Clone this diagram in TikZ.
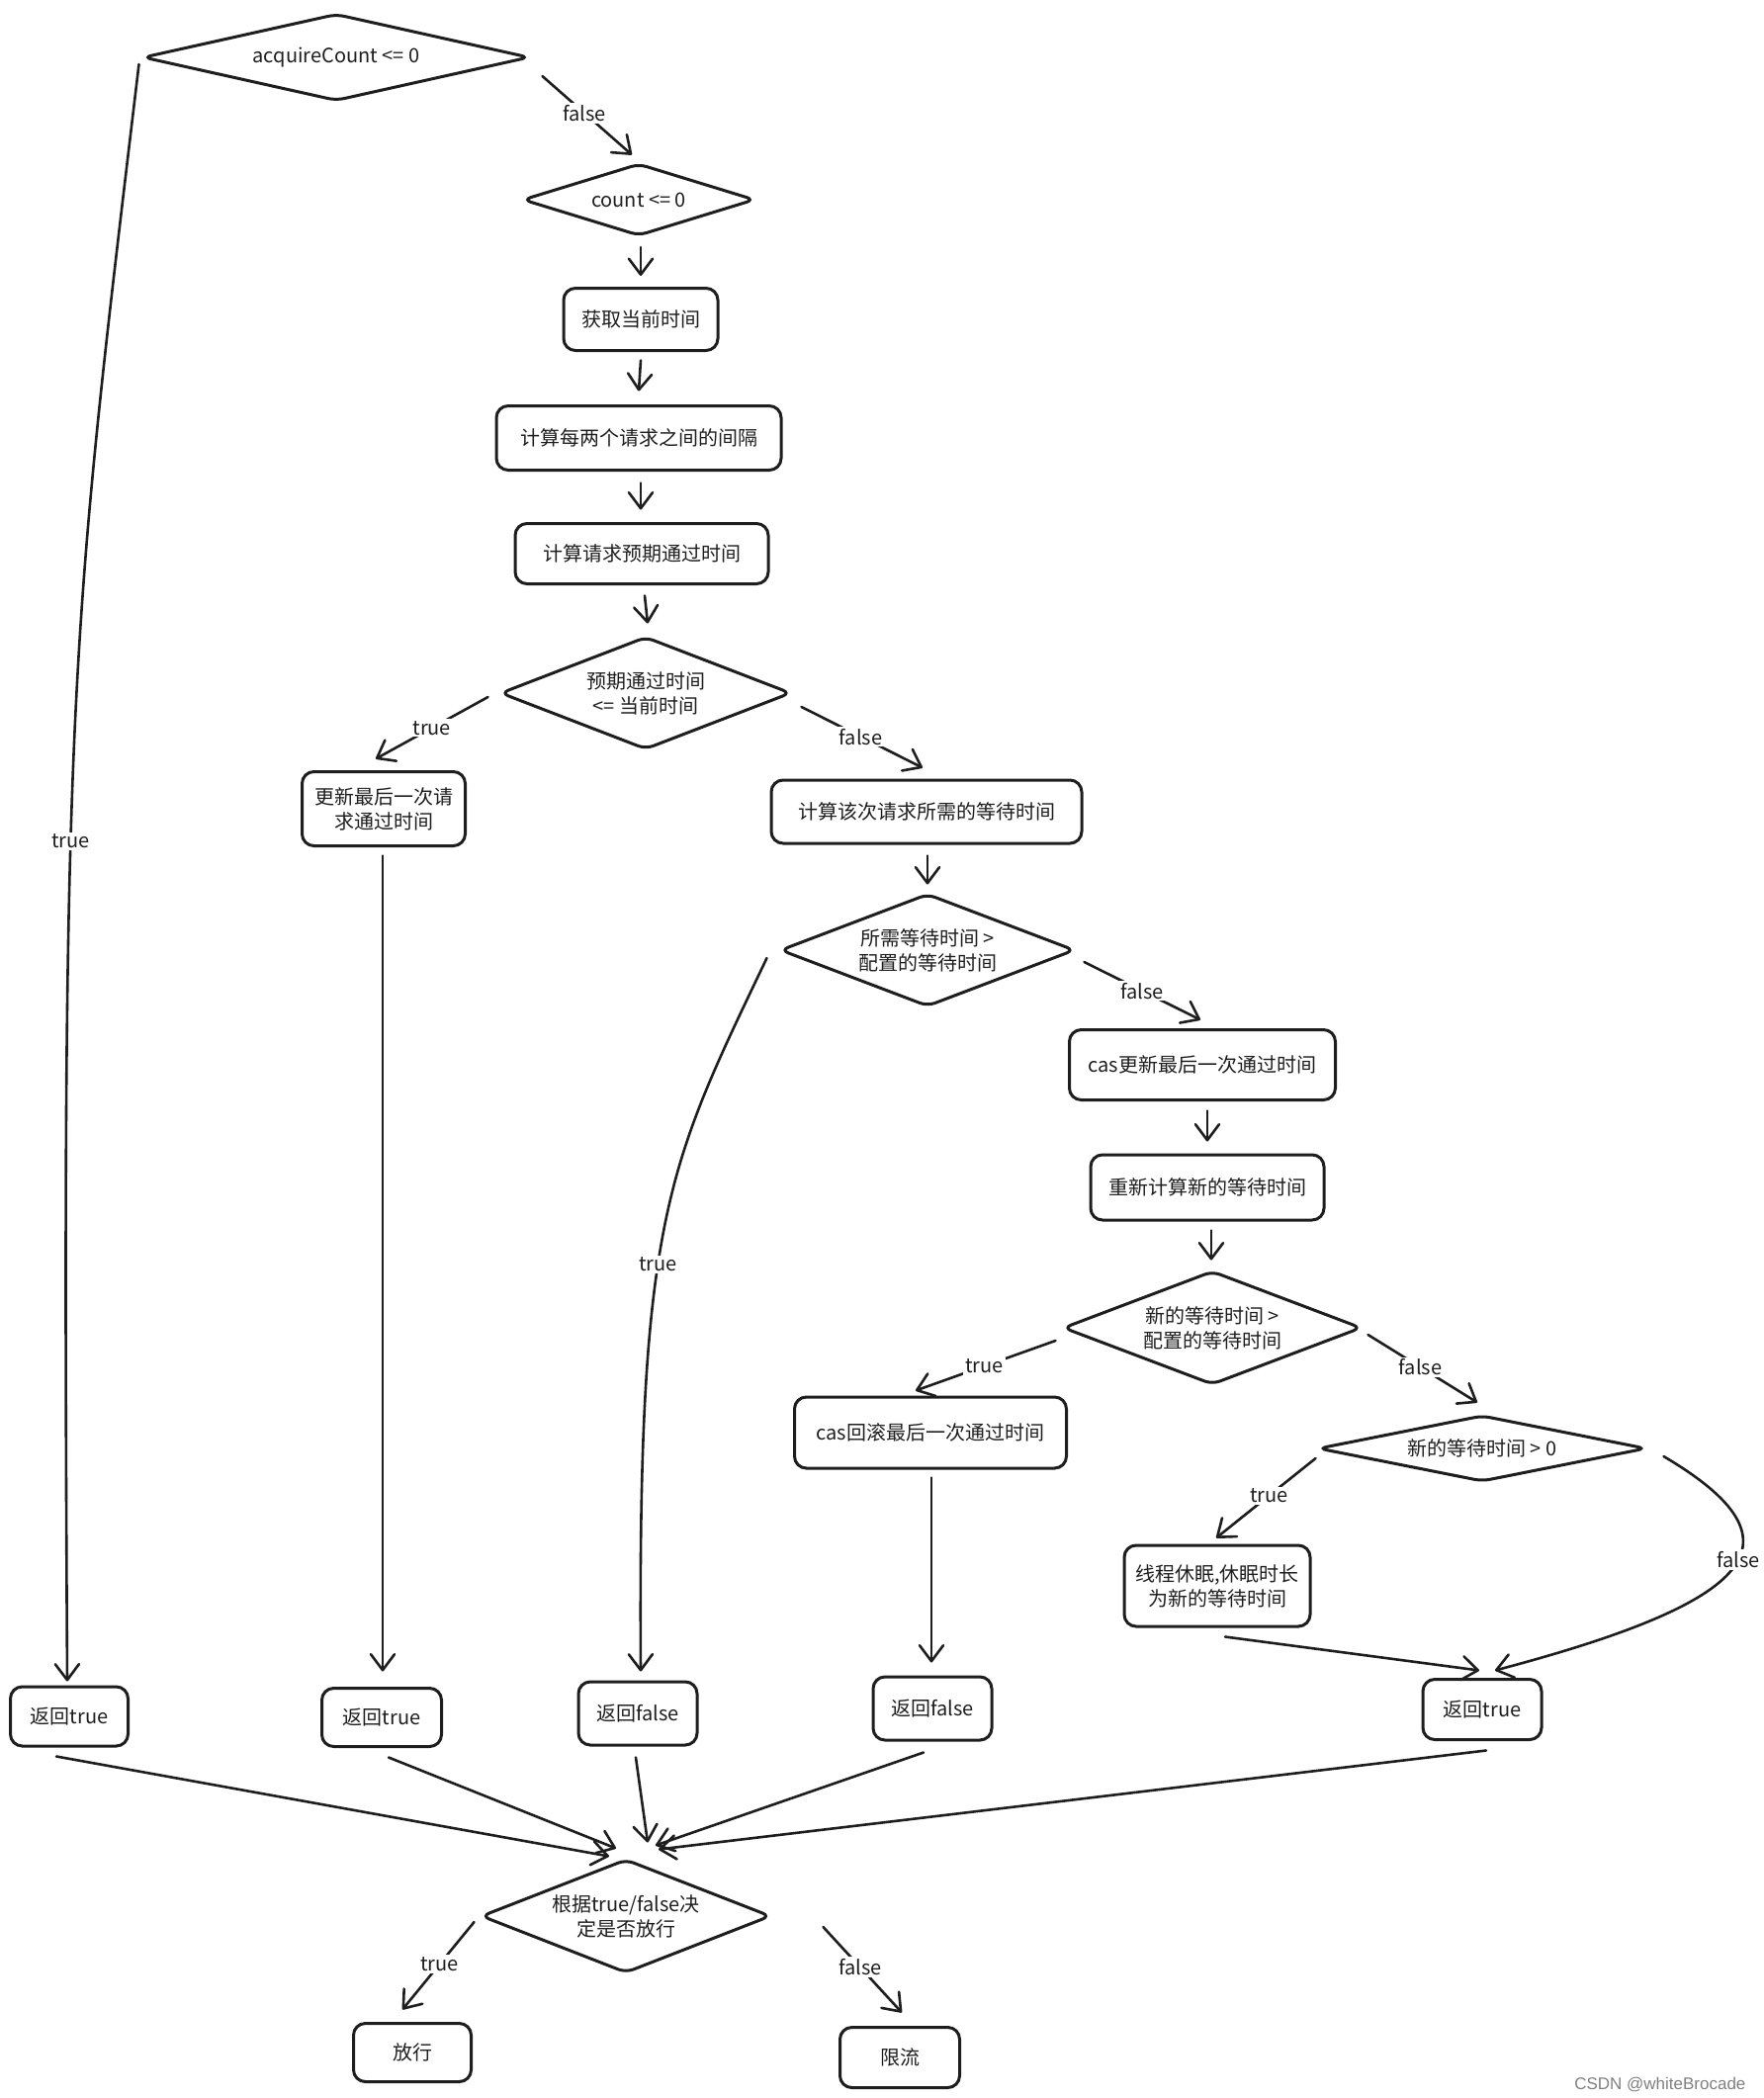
\documentclass[tikz,border=0pt]{standalone}
\usepackage{fontspec}
\setmainfont{Noto Sans CJK SC}
\newfontfamily\wmfont{Liberation Sans}
\usetikzlibrary{shapes.geometric,arrows.meta}
\definecolor{ink}{HTML}{1E1E1E}
\begin{document}
\begin{tikzpicture}[x=1pt,y=-1pt,
  every node/.style={font=\fontsize{20}{25}\selectfont, text=ink},
  box/.style={draw=ink, line width=3pt, rounded corners=12pt, inner sep=0pt, align=center},
  dia/.style={draw=ink, line width=3pt, shape=diamond, rounded corners=8pt, inner sep=0pt, align=center},
  arr/.style={draw=ink, line width=2.6pt, line cap=round, -{Straight Barb[length=16pt,width=24pt,round]}},
  lbl/.style={fill=white, inner sep=2pt}]
\useasboundingbox (0,0) rectangle (1784,2122);

% nodes
\node[dia, minimum width=391pt, minimum height=88pt, aspect=4.44] (A) at (340,58) {acquireCount <= 0};
\node[dia, minimum width=235pt, minimum height=73pt, aspect=3.22] (C) at (646,202) {count <= 0};
\node[box, minimum width=156pt, minimum height=63pt] (T1) at (648,323) {获取当前时间};
\node[box, minimum width=288pt, minimum height=65pt] (T2) at (646,443) {计算每两个请求之间的间隔};
\node[box, minimum width=256pt, minimum height=61pt] (T3) at (649,560) {计算请求预期通过时间};
\node[dia, minimum width=294pt, minimum height=114pt, aspect=2.58] (D1) at (653,701) {预期通过时间\\ <= 当前时间};
\node[box, minimum width=165pt, minimum height=75pt] (B1) at (388,818) {更新最后一次请\\求通过时间};
\node[box, minimum width=314pt, minimum height=64pt] (B2) at (937,821) {计算该次请求所需的等待时间};
\node[dia, minimum width=298pt, minimum height=114pt, aspect=2.61] (D2) at (938,961) {所需等待时间 >\\配置的等待时间};
\node[box, minimum width=269pt, minimum height=71pt] (B3) at (1216,1077) {cas更新最后一次通过时间};
\node[box, minimum width=236pt, minimum height=66pt] (B4) at (1221,1201) {重新计算新的等待时间};
\node[dia, minimum width=302pt, minimum height=115pt, aspect=2.63] (D3) at (1226,1343) {新的等待时间 >\\配置的等待时间};
\node[box, minimum width=275pt, minimum height=72pt] (B5) at (941,1449) {cas回滚最后一次通过时间};
\node[dia, minimum width=332pt, minimum height=67pt, aspect=4.96] (D4) at (1499,1465) {新的等待时间 > 0};
\node[box, minimum width=188pt, minimum height=82pt] (B6) at (1231,1604) {线程休眠,休眠时长\\为新的等待时间};
\node[box, minimum width=119pt, minimum height=60pt] (R1) at (70,1736) {返回true};
\node[box, minimum width=121pt, minimum height=59pt] (R2) at (386,1737) {返回true};
\node[box, minimum width=120pt, minimum height=64pt] (R3) at (645,1733) {返回false};
\node[box, minimum width=120pt, minimum height=64pt] (R4) at (943,1728) {返回false};
\node[box, minimum width=120pt, minimum height=61pt] (R5) at (1499,1729) {返回true};
\node[dia, minimum width=293pt, minimum height=115pt, aspect=2.55] (D5) at (633,1938) {根据true/false决\\定是否放行};
\node[box, minimum width=119pt, minimum height=59pt] (E1) at (417,2076) {放行};
\node[box, minimum width=121pt, minimum height=61pt] (E2) at (910,2081) {限流};
\node[anchor=east, text=gray, font=\wmfont\fontsize{17}{20}\selectfont] (W) at (1769,2108) {CSDN @whiteBrocade};

% connectors
\draw[arr] ([shift={(-2.5,7)}]A.west) .. controls (72,640) and (62,700) .. ([shift={(-2,-4)}]R1.north) node[lbl, pos=0.595] {true};
\draw[arr] ([shift={(11.5,19)}]A.east) -- ([shift={(-7,-7.5)}]C.north) node[lbl, pos=0.47] {false};
\draw[arr] ([shift={(2,10)}]C.south) -- ([shift={(0,-11)}]T1.north);
\draw[arr] ([shift={(0,8.5)}]T1.south) -- ([shift={(0,-13.5)}]T2.north);
\draw[arr] ([shift={(2,11.5)}]T2.south) -- ([shift={(-1,-12.5)}]T3.north);
\draw[arr] ([shift={(3,10.5)}]T3.south) -- ([shift={(2,-12)}]D1.north);
\draw[arr] ([shift={(-11,4)}]D1.west) -- ([shift={(-8,-11.5)}]B1.north) node[lbl, pos=0.5] {true};
\draw[arr] ([shift={(9,14)}]D1.east) -- ([shift={(-4,-11)}]B2.north) node[lbl, pos=0.49] {false};
\draw[arr] ([shift={(-1,8.5)}]B1.south) -- ([shift={(1,-15.5)}]R2.north);
\draw[arr] ([shift={(1,11)}]B2.south) -- ([shift={(0,-8)}]D2.north);
\draw[arr] ([shift={(-12,8)}]D2.west) .. controls (675,1180) and (645,1230) .. ([shift={(3,-9)}]R3.north) node[lbl, pos=0.57] {true};
\draw[arr] ([shift={(8,12)}]D2.east) -- ([shift={(-2,-8.5)}]B3.north) node[lbl, pos=0.5] {false};
\draw[arr] ([shift={(5,9.5)}]B3.south) -- ([shift={(0,-12)}]B4.north);
\draw[arr] ([shift={(4,9)}]B4.south) -- ([shift={(-1,-9.5)}]D3.north);
\draw[arr] ([shift={(-6,13)}]D3.west) -- ([shift={(-15,-5)}]B5.north) node[lbl, pos=0.51] {true};
\draw[arr] ([shift={(5,7)}]D3.east) -- ([shift={(-5,-11.5)}]D4.north) node[lbl, pos=0.48] {false};
\draw[arr] ([shift={(1,8)}]B5.south) -- ([shift={(-1,-13)}]R4.north);
\draw[arr] ([shift={(-1,10)}]D4.west) -- ([shift={(-1,-6)}]B6.north) node[lbl, pos=0.47] {true};
\draw[arr] ([shift={(16,8)}]D4.east) .. controls (1830,1560) and (1775,1620) .. ([shift={(13,-7.5)}]R5.north) node[lbl, pos=0.45] {false};
\draw[arr] ([shift={(8,9)}]B6.south) -- ([shift={(-3,-7.5)}]R5.north);
\draw[arr] ([shift={(-13,9)}]R1.south) -- ([shift={(-17,-1.5)}]D5.north);
\draw[arr] ([shift={(7,9.5)}]R2.south) -- ([shift={(-10,-9.5)}]D5.north);
\draw[arr] ([shift={(-2,11)}]R3.south) -- ([shift={(22,-15.5)}]D5.north);
\draw[arr] ([shift={(-9,11)}]R4.south) -- ([shift={(30,-12.5)}]D5.north);
\draw[arr] ([shift={(4,9.5)}]R5.south) -- ([shift={(33,-8.5)}]D5.north);
\draw[arr] ([shift={(-5.5,6)}]D5.west) -- ([shift={(-10,-12.5)}]E1.north) node[lbl, pos=0.48] {true};
\draw[arr] ([shift={(51.5,11)}]D5.east) -- ([shift={(2,-13.5)}]E2.north) node[lbl, pos=0.47] {false};
\end{tikzpicture}
\end{document}
